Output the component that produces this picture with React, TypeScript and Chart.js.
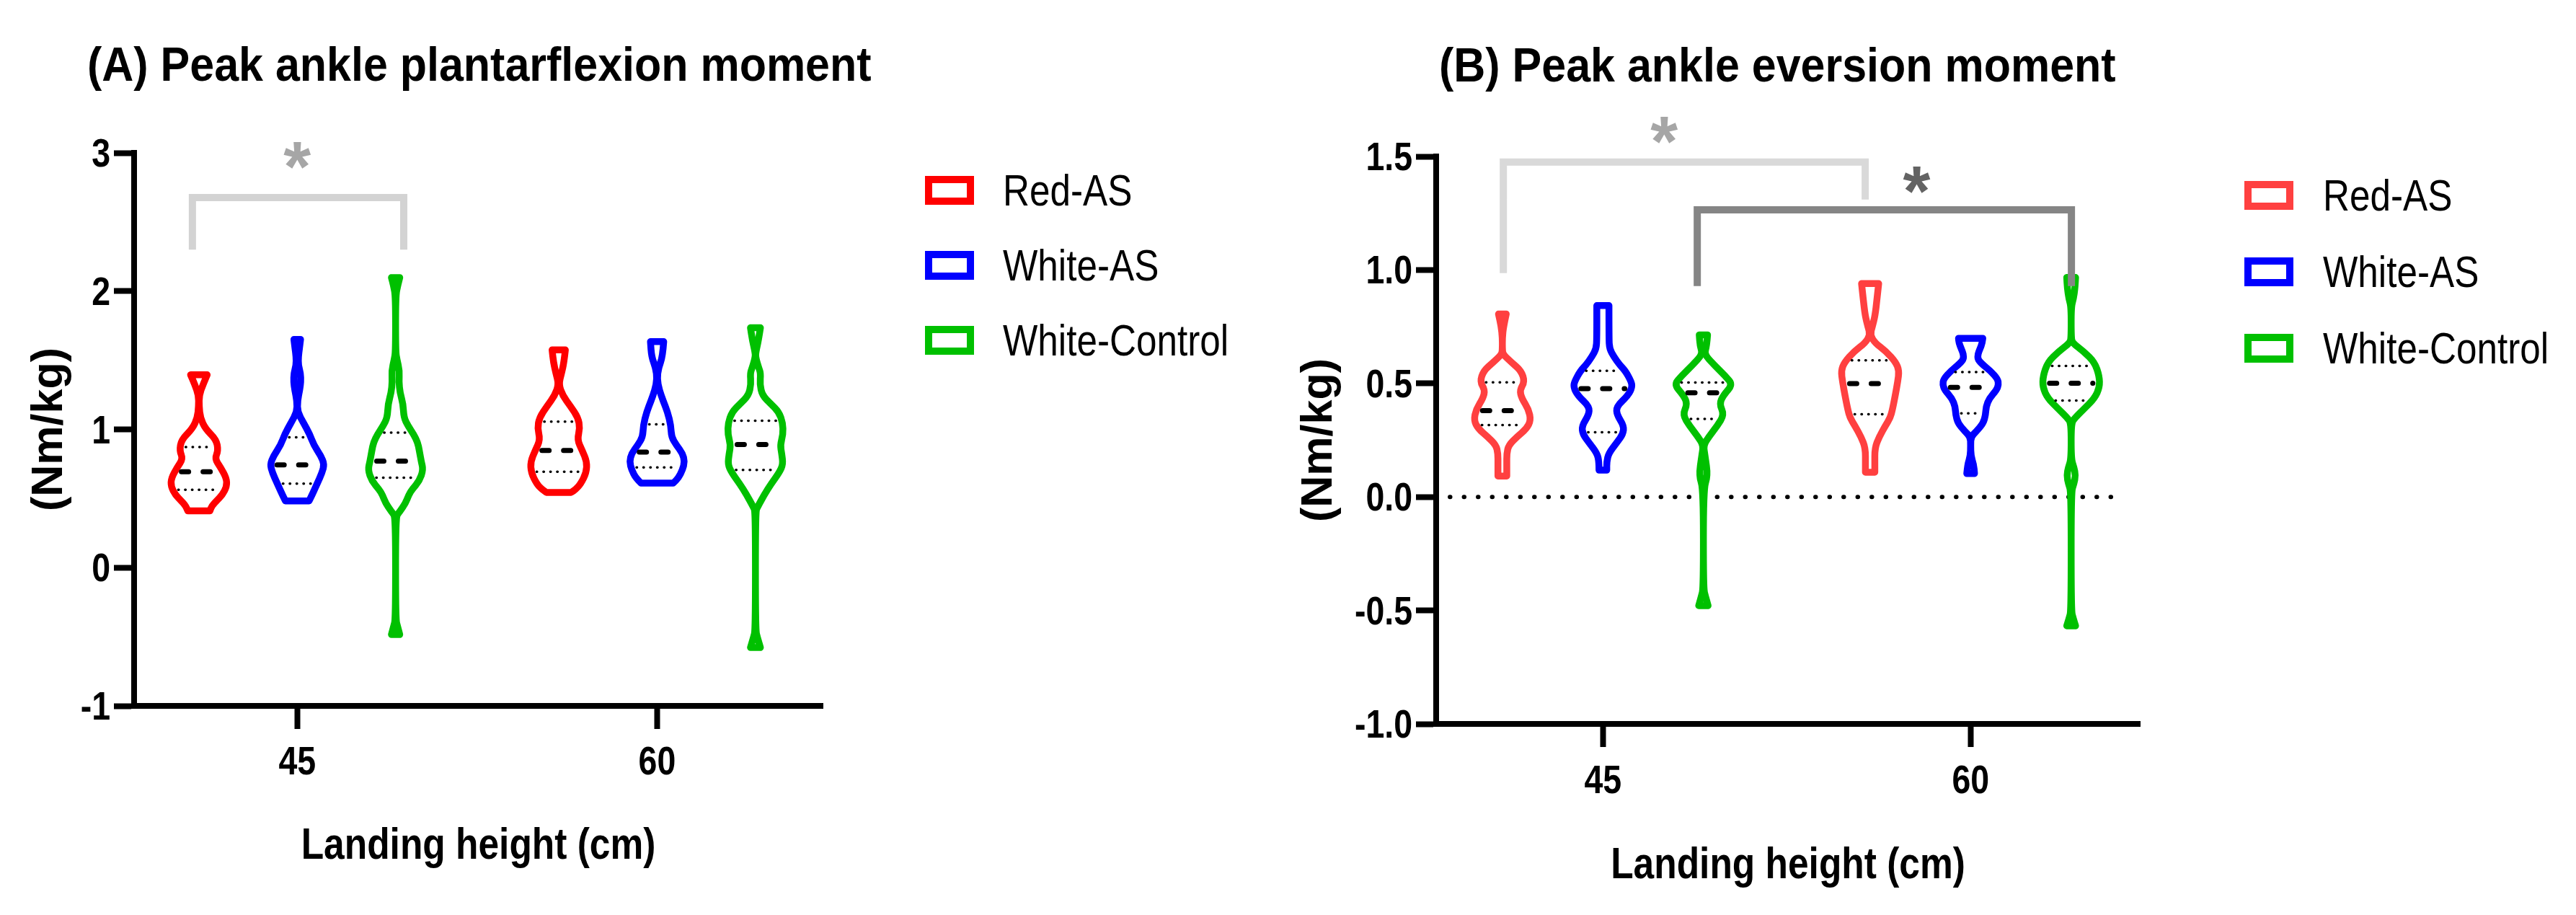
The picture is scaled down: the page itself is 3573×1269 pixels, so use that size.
import React, { useEffect, useRef } from 'react';
import { Chart, registerables } from 'chart.js';

Chart.register(...registerables);

// ---------------- DATA ----------------
const HEIGHTS = [45, 60];
const GROUPS = ['Red-AS', 'White-AS', 'White-Control'];

// Violin outlines: [value, density] from max to min
const A_RED_45 = [[1.395, 30], [1.325, 15], [1.246, 1], [1.166, 1], [1.086, 5], [1.006, 23], [0.926, 63], [0.847, 70], [0.787, 58], [0.727, 78], [0.647, 100], [0.587, 101], [0.527, 85], [0.487, 66], [0.447, 47], [0.411, 40]];
const A_WHITE_45 = [[1.651, 12], [1.585, 8], [1.525, 4], [1.465, 4], [1.405, 12], [1.345, 13], [1.286, 9], [1.206, 1], [1.126, 1], [1.046, 23], [0.966, 45], [0.886, 60], [0.807, 86], [0.747, 98], [0.687, 90], [0.607, 72], [0.527, 54], [0.483, 43]];
const A_CTRL_45 = [[2.098, 15], [2.044, 8], [1.964, 0], [1.565, 0], [1.505, 5], [1.425, 14], [1.345, 12], [1.266, 16], [1.186, 27], [1.086, 30], [1.026, 45], [0.966, 65], [0.906, 80], [0.847, 86], [0.767, 93], [0.707, 100], [0.627, 86], [0.567, 60], [0.527, 48], [0.467, 36], [0.407, 16], [0.367, 0], [-0.371, 0], [-0.431, 8], [-0.484, 15]];
const A_RED_60 = [[1.575, 24], [1.485, 19], [1.405, 10], [1.326, 0], [1.246, 14], [1.166, 43], [1.086, 70], [1.006, 77], [0.926, 67], [0.847, 85], [0.767, 102], [0.687, 100], [0.607, 80], [0.567, 62], [0.544, 45]];
const A_WHITE_60 = [[1.635, 24], [1.525, 20], [1.445, 5], [1.365, 0], [1.286, 8], [1.206, 22], [1.126, 38], [1.026, 50], [0.946, 52], [0.886, 70], [0.827, 92], [0.767, 100], [0.707, 92], [0.647, 77], [0.611, 58]];
const A_CTRL_60 = [[1.735, 18], [1.645, 11], [1.565, 2], [1.525, 0], [1.445, 12], [1.405, 19], [1.326, 16], [1.246, 25], [1.186, 55], [1.126, 85], [1.046, 99], [0.966, 100], [0.886, 90], [0.827, 95], [0.747, 100], [0.687, 86], [0.607, 57], [0.527, 32], [0.447, 10], [0.407, 0], [-0.451, 0], [-0.511, 8], [-0.578, 18]];

const B_RED_45 = [[0.806, 14], [0.750, 4], [0.702, 0], [0.653, 0], [0.629, 2], [0.593, 33], [0.556, 68], [0.508, 81], [0.471, 63], [0.435, 70], [0.386, 95], [0.338, 103], [0.301, 88], [0.265, 53], [0.228, 23], [0.192, 16], [0.143, 16], [0.092, 16]];
const B_WHITE_45 = [[0.843, 22], [0.700, 22], [0.653, 24], [0.617, 40], [0.580, 62], [0.556, 81], [0.508, 103], [0.483, 106], [0.447, 91], [0.398, 49], [0.362, 51], [0.313, 76], [0.277, 73], [0.240, 51], [0.192, 21], [0.155, 14], [0.118, 14]];
const B_CTRL_45 = [[0.714, 15], [0.665, 12], [0.629, 3], [0.580, 40], [0.532, 80], [0.495, 106], [0.447, 72], [0.410, 58], [0.362, 75], [0.313, 50], [0.265, 20], [0.228, 0], [0.180, 6], [0.094, 16], [0.034, 0], [-0.403, 0], [-0.440, 8], [-0.479, 17]];
const B_RED_60 = [[0.940, 31], [0.872, 25], [0.799, 18], [0.751, 8], [0.714, 0], [0.678, 18], [0.641, 58], [0.593, 93], [0.556, 105], [0.508, 100], [0.447, 91], [0.386, 81], [0.349, 73], [0.313, 55], [0.265, 33], [0.216, 17], [0.143, 17], [0.109, 17]];
const B_WHITE_60 = [[0.699, 44], [0.678, 42], [0.653, 34], [0.629, 26], [0.605, 26], [0.580, 46], [0.556, 71], [0.520, 98], [0.495, 101], [0.471, 94], [0.435, 68], [0.398, 56], [0.362, 54], [0.325, 46], [0.289, 21], [0.265, 1], [0.228, 0], [0.180, 1], [0.143, 11], [0.103, 14]];
const B_CTRL_60 = [[0.967, 16], [0.921, 14], [0.872, 8], [0.836, 0], [0.702, 0], [0.678, 5], [0.641, 45], [0.593, 85], [0.532, 102], [0.483, 103], [0.435, 85], [0.386, 45], [0.350, 15], [0.325, 0], [0.167, 0], [0.131, 10], [0.094, 16], [0.058, 10], [0.022, 0], [-0.501, 0], [-0.537, 8], [-0.568, 16]];

// Summary lines [group][height]
const A_MEDIAN = [[0.693, 0.847], [0.743, 0.836], [0.771, 0.890]];
const A_Q3 = [[0.872, 1.056], [0.942, 1.036], [0.976, 1.062]];
const A_Q1 = [[0.563, 0.693], [0.607, 0.725], [0.651, 0.707]];
const B_MEDIAN = [[0.380, 0.499], [0.477, 0.483], [0.459, 0.501]];
const B_Q3 = [[0.505, 0.602], [0.556, 0.550], [0.504, 0.577]];
const B_Q1 = [[0.317, 0.364], [0.285, 0.368], [0.344, 0.425]];

// Significance brackets: [x1, x2, barValue, leg1End, leg2End]
const A_BRACKETS = [[40.63, 49.44, 2.677, 2.30, 2.30]];
const B_BRACKETS = [[40.94, 55.70, 1.475, 0.986, 1.31], [48.85, 64.11, 1.265, 0.929, 0.929]];
// Asterisks: [x, y]
const A_STARS = [[45.0, 2.98]];
const B_STARS = [[47.5, 1.617], [57.8, 1.398]];

const A_Y_TICKS = { min: -1, max: 3, step: 1 };
const B_Y_TICKS = { min: -1, max: 1.5, step: 0.5 };

// ---------------- STYLE ----------------
const FONT = '"Liberation Sans", Arial, Helvetica, sans-serif';
const GROUP_OFFSETS = [-4.1, 0, 4.1];
const X_RANGE = { min: 38.2, max: 66.9 };
const VIOLIN_LW = 9.5;
const NARROW = 0.83;

type Prof = number[][];

function smoothTo(ctx: CanvasRenderingContext2D, pts: number[][]) {
  if (pts.length < 3) {
    ctx.lineTo(pts[pts.length - 1][0], pts[pts.length - 1][1]);
    return;
  }
  for (let i = 1; i < pts.length - 1; i++) {
    const mx = (pts[i][0] + pts[i + 1][0]) / 2;
    const my = (pts[i][1] + pts[i + 1][1]) / 2;
    ctx.quadraticCurveTo(pts[i][0], pts[i][1], mx, my);
  }
  ctx.lineTo(pts[pts.length - 1][0], pts[pts.length - 1][1]);
}

function densAt(p: Prof, v: number) {
  for (let i = 0; i < p.length - 1; i++) {
    const [v0, d0] = p[i];
    const [v1, d1] = p[i + 1];
    if (v <= v0 && v >= v1) {
      const t = v0 === v1 ? 0 : (v0 - v) / (v0 - v1);
      return d0 + (d1 - d0) * t;
    }
  }
  return 0;
}

// draws horizontally condensed text; (x, yMid) is anchor with cap-height centred on yMid
function drawText(ctx: CanvasRenderingContext2D, text: string, x: number, yMid: number, font: string, align: CanvasTextAlign, sx: number, color = '#000') {
  ctx.save();
  ctx.font = font;
  const capH = ctx.measureText('H').actualBoundingBoxAscent;
  ctx.fillStyle = color;
  ctx.textAlign = align;
  ctx.textBaseline = 'alphabetic';
  ctx.translate(x, yMid + capH / 2);
  ctx.scale(sx, 1);
  ctx.fillText(text, 0, 0);
  ctx.restore();
}

function makePlugin(cfg: any) {
  return {
    id: 'violinPanel_' + cfg.id,
    afterDraw(chart: any) {
      const ctx: CanvasRenderingContext2D = chart.ctx;
      const xs = chart.scales.x;
      const ys = chart.scales.y;
      const area = chart.chartArea;
      ctx.save();

      // tick labels (condensed bold)
      const tickFont = `bold 56px ${FONT}`;
      ys.ticks.forEach((t: any) => {
        drawText(ctx, cfg.yFormat(t.value), area.left - 28 - 5, ys.getPixelForValue(t.value), tickFont, 'right', NARROW);
      });
      xs.ticks.forEach((t: any) => {
        drawText(ctx, String(t.value), xs.getPixelForValue(t.value), area.bottom + cfg.xTickGap, tickFont, 'center', NARROW);
      });
      // x axis title
      drawText(ctx, 'Landing height (cm)', (area.left + area.right) / 2, area.bottom + cfg.xTitleGap, `bold 62px ${FONT}`, 'center', NARROW);

      // zero reference line
      if (cfg.zeroLine) {
        ctx.save();
        ctx.strokeStyle = '#000';
        ctx.lineWidth = 6;
        ctx.lineCap = 'round';
        ctx.setLineDash([0.5, 19]);
        const y0 = ys.getPixelForValue(0);
        ctx.beginPath();
        ctx.moveTo(xs.getPixelForValue(cfg.zeroLine[0]), y0);
        ctx.lineTo(xs.getPixelForValue(cfg.zeroLine[1]), y0);
        ctx.stroke();
        ctx.restore();
      }

      // violins
      for (let g = 0; g < GROUPS.length; g++) {
        for (let h = 0; h < HEIGHTS.length; h++) {
          const prof: Prof = cfg.profiles[g][h];
          const cx = HEIGHTS[h] + GROUP_OFFSETS[g];
          const xc = xs.getPixelForValue(cx);
          const wpx = (d: number) => xs.getPixelForValue(cx + d * cfg.densScale) - xc;
          const pts = prof.map(([v, d]) => ({ y: ys.getPixelForValue(v), w: wpx(d) }));
          const right = pts.map((p) => [xc + p.w, p.y]);
          const left = pts.slice().reverse().map((p) => [xc - p.w, p.y]);
          ctx.save();
          ctx.strokeStyle = cfg.colors[g];
          ctx.lineWidth = VIOLIN_LW;
          ctx.lineJoin = 'round';
          ctx.lineCap = 'round';
          ctx.beginPath();
          ctx.moveTo(xc - pts[0].w, pts[0].y);
          ctx.lineTo(right[0][0], right[0][1]);
          smoothTo(ctx, right);
          ctx.lineTo(left[0][0], left[0][1]);
          smoothTo(ctx, left);
          ctx.closePath();
          ctx.stroke();
          ctx.restore();

          const inset = VIOLIN_LW / 2 + 3;
          // quartiles
          for (const q of [cfg.q1[g][h], cfg.q3[g][h]]) {
            const w = wpx(densAt(prof, q)) - inset;
            if (w <= 0) continue;
            const yq = ys.getPixelForValue(q);
            ctx.save();
            ctx.strokeStyle = '#000';
            ctx.lineWidth = 3.5;
            ctx.lineCap = 'round';
            ctx.setLineDash([0.5, 9]);
            ctx.beginPath();
            ctx.moveTo(xc - w, yq);
            ctx.lineTo(xc + w, yq);
            ctx.stroke();
            ctx.restore();
          }
          // median
          const med = cfg.median[g][h];
          const wm = wpx(densAt(prof, med)) - inset + 2;
          if (wm > 0) {
            const ym = ys.getPixelForValue(med);
            ctx.save();
            ctx.strokeStyle = '#000';
            ctx.lineWidth = 7;
            ctx.lineCap = 'round';
            ctx.setLineDash([10, 20]);
            ctx.lineDashOffset = 0;
            ctx.beginPath();
            ctx.moveTo(xc - wm + 3.5, ym);
            ctx.lineTo(xc + wm - 3.5, ym);
            ctx.stroke();
            ctx.restore();
          }
        }
      }

      // brackets
      cfg.brackets.forEach((b: number[], i: number) => {
        const [x1, x2, top, e1, e2] = b;
        ctx.save();
        ctx.strokeStyle = cfg.bracketColors[i];
        ctx.lineWidth = 10;
        ctx.lineJoin = 'miter';
        ctx.lineCap = 'butt';
        ctx.beginPath();
        ctx.moveTo(xs.getPixelForValue(x1), ys.getPixelForValue(e1));
        ctx.lineTo(xs.getPixelForValue(x1), ys.getPixelForValue(top));
        ctx.lineTo(xs.getPixelForValue(x2), ys.getPixelForValue(top));
        ctx.lineTo(xs.getPixelForValue(x2), ys.getPixelForValue(e2));
        ctx.stroke();
        ctx.restore();
      });

      // asterisks
      cfg.stars.forEach((s: number[], i: number) => {
        ctx.save();
        ctx.font = `bold 100px ${FONT}`;
        const m0 = ctx.measureText('*');
        const h0 = m0.actualBoundingBoxAscent + m0.actualBoundingBoxDescent;
        const size = (100 * 37) / h0;
        ctx.font = `bold ${size}px ${FONT}`;
        const m = ctx.measureText('*');
        ctx.fillStyle = cfg.starColors[i];
        ctx.textAlign = 'center';
        ctx.textBaseline = 'alphabetic';
        const yc = ys.getPixelForValue(s[1]);
        ctx.fillText('*', xs.getPixelForValue(s[0]), yc + (m.actualBoundingBoxAscent - m.actualBoundingBoxDescent) / 2);
        ctx.restore();
      });

      // panel title
      ctx.save();
      ctx.font = `bold 67px ${FONT}`;
      ctx.fillStyle = '#000';
      ctx.textBaseline = 'alphabetic';
      ctx.textAlign = 'left';
      ctx.translate(cfg.title.x, cfg.title.baseline);
      ctx.scale(0.91, 1);
      ctx.fillText(cfg.title.text, 0, 0);
      ctx.restore();

      // legend
      const L = cfg.legend;
      GROUPS.forEach((name, g) => {
        const cy = L.y + g * L.step;
        ctx.save();
        ctx.strokeStyle = cfg.colors[g];
        ctx.fillStyle = '#fff';
        ctx.lineWidth = 10;
        ctx.fillRect(L.x + 5, cy - 15, 58, 30);
        ctx.strokeRect(L.x + 5, cy - 15, 58, 30);
        ctx.restore();
        drawText(ctx, name, L.tx, cy, `61px ${FONT}`, 'left', 0.84);
      });

      ctx.restore();
    },
  };
}

function buildConfig(cfg: any) {
  return {
    type: 'scatter' as const,
    data: { datasets: [] },
    options: {
      responsive: false,
      animation: false as const,
      events: [],
      layout: { padding: cfg.padding },
      plugins: { legend: { display: false }, title: { display: false }, tooltip: { enabled: false } },
      scales: {
        x: {
          type: 'linear' as const,
          min: X_RANGE.min,
          max: X_RANGE.max,
          afterBuildTicks: (s: any) => {
            s.ticks = HEIGHTS.map((v) => ({ value: v }));
          },
          afterFit: (s: any) => {
            s.height = cfg.xAxisHeight;
          },
          ticks: { display: false },
          grid: { display: true, drawOnChartArea: false, drawTicks: true, tickLength: 32, tickWidth: 8, tickColor: '#000' },
          border: { display: true, color: '#000', width: 8 },
          title: { display: false },
        },
        y: {
          type: 'linear' as const,
          min: cfg.yTicks.min,
          max: cfg.yTicks.max,
          afterFit: (s: any) => {
            s.width = cfg.yAxisWidth;
          },
          ticks: { stepSize: cfg.yTicks.step, display: false },
          grid: { display: true, drawOnChartArea: false, drawTicks: true, tickLength: 28, tickWidth: 8, tickColor: '#000' },
          border: { display: true, color: '#000', width: 8 },
          title: {
            display: true,
            text: '(Nm/kg)',
            color: '#000',
            font: { family: FONT, size: 61, weight: 'bold' as const, lineHeight: 1.2 },
            padding: { top: cfg.yTitlePad, bottom: 0 },
          },
        },
      },
    },
    plugins: [makePlugin(cfg)],
  };
}

const PANEL_A = {
  id: 'A',
  profiles: [[A_RED_45, A_RED_60], [A_WHITE_45, A_WHITE_60], [A_CTRL_45, A_CTRL_60]],
  median: A_MEDIAN,
  q1: A_Q1,
  q3: A_Q3,
  colors: ['#FF0000', '#0000FF', '#00C000'],
  densScale: 1 / 86.9,
  brackets: A_BRACKETS,
  bracketColors: ['#D3D3D3'],
  stars: A_STARS,
  starColors: ['#A6A6A6'],
  zeroLine: null,
  yTicks: A_Y_TICKS,
  yFormat: (v: any) => String(v),
  padding: { left: 20, top: 212, right: 649, bottom: 0 },
  yAxisWidth: 166,
  xAxisHeight: 290,
  xTickGap: 76,
  xTitleGap: 191,
  yTitlePad: 13,
  title: { text: '(A) Peak ankle plantarflexion moment', x: 121, baseline: 112 },
  legend: { x: 1283, y: 264, step: 104, tx: 1391 },
};

const PANEL_B = {
  id: 'B',
  profiles: [[B_RED_45, B_RED_60], [B_WHITE_45, B_WHITE_60], [B_CTRL_45, B_CTRL_60]],
  median: B_MEDIAN,
  q1: B_Q1,
  q3: B_Q3,
  colors: ['#FF4040', '#0000FF', '#00C000'],
  densScale: 1 / 88.8,
  brackets: B_BRACKETS,
  bracketColors: ['#D9D9D9', '#858585'],
  stars: B_STARS,
  starColors: ['#A6A6A6', '#636363'],
  zeroLine: [38.76, 66.26],
  yTicks: B_Y_TICKS,
  yFormat: (v: any) => Number(v).toFixed(1),
  padding: { left: 0, top: 217, right: 605, bottom: 0 },
  yAxisWidth: 202,
  xAxisHeight: 265,
  xTickGap: 77,
  xTitleGap: 193,
  yTitlePad: 4,
  title: { text: '(B) Peak ankle eversion moment', x: 206, baseline: 113 },
  legend: { x: 1323, y: 271, step: 106, tx: 1432 },
};

export default function App() {
  const refA = useRef<HTMLCanvasElement>(null);
  const refB = useRef<HTMLCanvasElement>(null);
  useEffect(() => {
    const a = new Chart(refA.current as HTMLCanvasElement, buildConfig(PANEL_A) as any);
    const b = new Chart(refB.current as HTMLCanvasElement, buildConfig(PANEL_B) as any);
    return () => {
      a.destroy();
      b.destroy();
    };
  }, []);
  return (
    <div style={{ position: 'absolute', left: 0, top: 0, width: 3573, height: 1269, background: '#fff', overflow: 'hidden' }}>
      <canvas ref={refA} width={1790} height={1269} style={{ position: 'absolute', left: 0, top: 0, width: 1790, height: 1269 }} />
      <canvas ref={refB} width={1783} height={1269} style={{ position: 'absolute', left: 1790, top: 0, width: 1783, height: 1269 }} />
    </div>
  );
}
